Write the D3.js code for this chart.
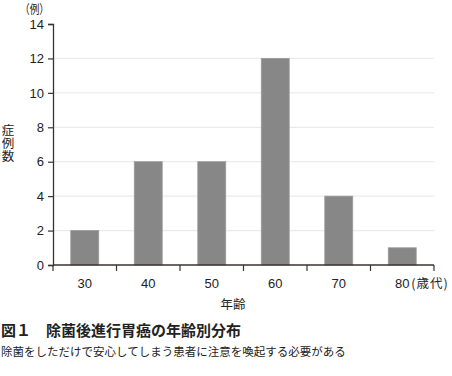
<!DOCTYPE html>
<html>
<head>
<meta charset="utf-8">
<script src="https://cdn.jsdelivr.net/npm/d3@7"></script>
<style>
  body { margin: 0; background: #fff; }
  text { font-family: "Noto Sans CJK JP", "Liberation Sans", sans-serif; fill: #222; }
</style>
</head>
<body>
<svg id="chart" width="452" height="376"></svg>
<script>
var ages = ['30', '40', '50', '60', '70', '80']
var counts = [2, 6, 6, 12, 4, 1]
var yTicks = [0, 2, 4, 6, 8, 10, 12, 14]

var svg = d3.select('#chart')
var m = {left: 53, right: 434, top: 24, bottom: 265}
var numFont = '"Liberation Sans", Arial, sans-serif'

var x = d3.scaleBand().domain(ages).range([m.left, m.right]).paddingInner(0.56).paddingOuter(0.28)
var y = d3.scaleLinear().domain([0, 14]).range([m.bottom, m.top])

// grid
svg.append('g').selectAll('line')
  .data(yTicks.filter(d => d > 0 && d < 14))
  .join('line')
  .attr('x1', m.left).attr('x2', m.right)
  .attr('y1', d => y(d)).attr('y2', d => y(d))
  .attr('stroke', '#ebebeb').attr('stroke-width', 1.2)

// bars
svg.append('g').selectAll('rect')
  .data(counts)
  .join('rect')
  .attr('x', (d, i) => x(ages[i]))
  .attr('width', x.bandwidth())
  .attr('y', d => y(d))
  .attr('height', d => y(0) - y(d))
  .attr('fill', '#878787')
  .attr('stroke', '#9a9a9a')
  .attr('stroke-width', 0.8)

// y axis
var yAxis = svg.append('g')
  .attr('transform', `translate(${m.left},0)`)
  .call(d3.axisLeft(y).tickValues(yTicks).tickSize(5).tickPadding(4))
yAxis.select('.domain').attr('stroke', '#3a3230').attr('stroke-width', 1.3)
yAxis.selectAll('.tick line').attr('stroke', '#3a3230').attr('stroke-width', 1.2)
yAxis.selectAll('.tick text')
  .style('font-size', '13px').style('font-family', numFont).attr('fill', '#222')

// x axis: ticks at band edges
var edges = d3.range(ages.length + 1).map(i => m.left + i * (m.right - m.left) / ages.length)
var xg = svg.append('g')
xg.append('line')
  .attr('x1', m.left).attr('x2', m.right)
  .attr('y1', y(0)).attr('y2', y(0))
  .attr('stroke', '#3a3230').attr('stroke-width', 1.3)
xg.selectAll('line.tk')
  .data(edges)
  .join('line').attr('class', 'tk')
  .attr('x1', d => d).attr('x2', d => d)
  .attr('y1', y(0)).attr('y2', y(0) + 6)
  .attr('stroke', '#3a3230').attr('stroke-width', 1.2)
xg.selectAll('text')
  .data(ages)
  .join('text')
  .attr('x', d => x(d) + x.bandwidth() / 2)
  .attr('y', y(0) + 23)
  .attr('text-anchor', 'middle')
  .style('font-family', numFont)
  .style('font-size', '13px')
  .text(d => d)

svg.append('text')
  .attr('x', x('80') + x.bandwidth() / 2 + 9)
  .attr('y', y(0) + 23)
  .style('font-size', '12.5px')
  .style('letter-spacing', '1px')
  .text('(歳代)')

// labels
svg.append('text').attr('x', 20).attr('y', 14)
  .style('font-size', '12.5px')
  .attr('textLength', 29).attr('lengthAdjust', 'spacingAndGlyphs')
  .text('（例）')

svg.append('text')
  .attr('x', 8).attr('y', 124)
  .style('writing-mode', 'vertical-rl')
  .style('font-size', '12.5px')
  .style('letter-spacing', '0.5px')
  .text('症例数')

svg.append('text')
  .attr('x', 233).attr('y', 309)
  .attr('text-anchor', 'middle')
  .style('font-size', '12.5px')
  .text('年齢')

svg.append('text')
  .attr('x', 1).attr('y', 336)
  .style('font-size', '15px').style('font-weight', 'bold')
  .attr('fill', '#333')
  .text('図１　除菌後進行胃癌の年齢別分布')

svg.append('text')
  .attr('x', 1).attr('y', 356)
  .style('font-size', '11.5px')
  .attr('fill', '#333')
  .text('除菌をしただけで安心してしまう患者に注意を喚起する必要がある')
</script>
</body>
</html>
